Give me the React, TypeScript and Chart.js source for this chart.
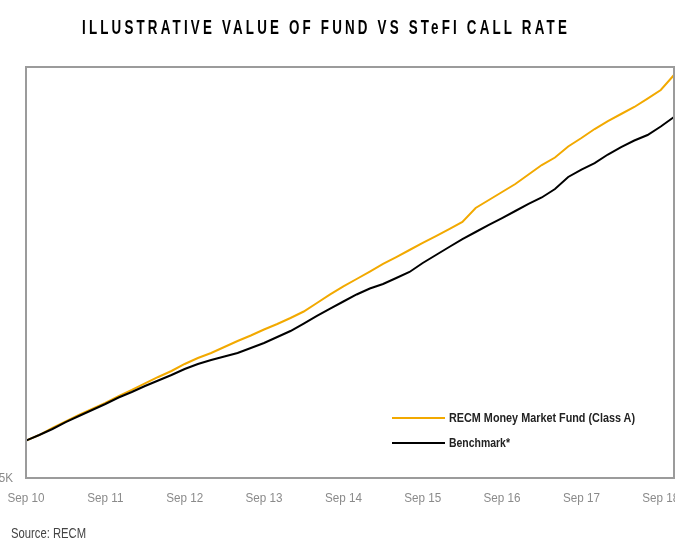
import React, { useEffect, useRef } from "react";
import { Chart, registerables } from "chart.js";

Chart.register(...registerables);

// Month labels, every second month from Sep 2010 to Nov 2018
const periods: string[] = [
  "Sep 10", "Nov 10", "Jan 11", "Mar 11", "May 11", "Jul 11",
  "Sep 11", "Nov 11", "Jan 12", "Mar 12", "May 12", "Jul 12",
  "Sep 12", "Nov 12", "Jan 13", "Mar 13", "May 13", "Jul 13",
  "Sep 13", "Nov 13", "Jan 14", "Mar 14", "May 14", "Jul 14",
  "Sep 14", "Nov 14", "Jan 15", "Mar 15", "May 15", "Jul 15",
  "Sep 15", "Nov 15", "Jan 16", "Mar 16", "May 16", "Jul 16",
  "Sep 16", "Nov 16", "Jan 17", "Mar 17", "May 17", "Jul 17",
  "Sep 17", "Nov 17", "Jan 18", "Mar 18", "May 18", "Jul 18",
  "Sep 18", "Nov 18",
];

// Value in R thousands
const fundValues: number[] = [
  10.0, 10.75, 11.69, 12.56, 13.43, 14.23, 15.04, 15.97, 16.78, 17.65,
  18.52, 19.32, 20.26, 21.06, 21.73, 22.53, 23.33, 24.07, 24.87, 25.61,
  26.41, 27.28, 28.42, 29.56, 30.63, 31.63, 32.63, 33.64, 34.57, 35.51,
  36.45, 37.38, 38.32, 39.26, 41.13, 42.2, 43.27, 44.34, 45.61, 46.88,
  47.89, 49.36, 50.5, 51.7, 52.77, 53.71, 54.65, 55.78, 56.92, 58.93,
];

const benchmarkValues: number[] = [
  10.0, 10.75, 11.56, 12.49, 13.3, 14.1, 14.9, 15.77, 16.51, 17.31,
  18.05, 18.78, 19.59, 20.26, 20.79, 21.26, 21.73, 22.4, 23.07, 23.87,
  24.67, 25.67, 26.68, 27.68, 28.62, 29.56, 30.36, 30.96, 31.76, 32.57,
  33.77, 34.84, 35.91, 36.98, 37.92, 38.86, 39.79, 40.73, 41.67, 42.54,
  43.67, 45.28, 46.28, 47.15, 48.29, 49.29, 50.16, 50.9, 52.04, 53.31,
];

const yTickValues: number[] = [5];
const yTickLabels: string[] = ["5K"];
const yMin = 5;
const yMax = 60;

const titleText = "ILLUSTRATIVE VALUE OF FUND VS STeFI CALL RATE";
const fundLabel = "RECM Money Market Fund (Class A)";
const benchLabel = "Benchmark*";
const sourceText = "Source: RECM";

const FUND_COLOR = "#f2a900";
const BENCH_COLOR = "#000000";
const FONT = '"Liberation Sans", Arial, sans-serif';
const TICK_SCALE = 0.865;

const boxPlugin = {
  id: "boxBorder",
  afterDatasetsDraw(chart: any) {
    const { ctx, chartArea } = chart;
    const { left, top, right, bottom } = chartArea;
    ctx.save();
    ctx.strokeStyle = "#9b9b9b";
    ctx.lineWidth = 2;
    ctx.strokeRect(left, top, right - left, bottom - top);
    ctx.restore();
  },
};

// Draws the axis texts horizontally condensed (narrow typeface look)
const condensePlugin = {
  id: "condenseText",
  beforeDraw(chart: any) {
    const ctx = chart.ctx as any;
    if (ctx.__origFill) return;
    const orig = ctx.fillText;
    ctx.__origFill = orig;
    ctx.fillText = function (text: string, x: number, y: number) {
      this.save();
      this.translate(x, y);
      this.scale(TICK_SCALE, 1);
      orig.call(this, text, 0, 0);
      this.restore();
    };
  },
  afterDraw(chart: any) {
    const ctx = chart.ctx as any;
    if (ctx.__origFill) {
      ctx.fillText = ctx.__origFill;
      delete ctx.__origFill;
    }
  },
};

function fitWidth(el: HTMLElement | null, target: number) {
  if (!el) return;
  el.style.transform = "none";
  const w = el.getBoundingClientRect().width;
  if (w > 0) el.style.transform = `scaleX(${target / w})`;
}

export default function App() {
  const canvasRef = useRef<HTMLCanvasElement | null>(null);
  const titleRef = useRef<HTMLDivElement | null>(null);
  const l1Ref = useRef<HTMLSpanElement | null>(null);
  const l2Ref = useRef<HTMLSpanElement | null>(null);
  const srcRef = useRef<HTMLDivElement | null>(null);

  useEffect(() => {
    document.body.style.margin = "0";
    document.body.style.overflow = "hidden";
    fitWidth(titleRef.current, 488);
    fitWidth(l1Ref.current, 186);
    fitWidth(l2Ref.current, 61);
    fitWidth(srcRef.current, 75);

    const canvas = canvasRef.current;
    if (!canvas) return;
    const chart = new Chart(canvas, {
      type: "line",
      data: {
        labels: periods,
        datasets: [
          {
            label: fundLabel,
            data: fundValues,
            borderColor: FUND_COLOR,
            backgroundColor: FUND_COLOR,
            borderWidth: 2,
            pointRadius: 0,
            tension: 0,
            order: 1,
          },
          {
            label: benchLabel,
            data: benchmarkValues,
            borderColor: BENCH_COLOR,
            backgroundColor: BENCH_COLOR,
            borderWidth: 2,
            pointRadius: 0,
            tension: 0,
            order: 0,
          },
        ],
      },
      options: {
        animation: false,
        responsive: false,
        maintainAspectRatio: false,
        layout: { padding: { left: 0, right: 26, top: 67, bottom: 0 } },
        plugins: {
          legend: { display: false },
          title: { display: false },
          tooltip: { enabled: false },
        },
        scales: {
          x: {
            type: "category",
            offset: false,
            grid: { display: false, drawTicks: false },
            border: { display: false },
            ticks: {
              autoSkip: false,
              maxRotation: 0,
              minRotation: 0,
              padding: 12,
              color: "#8a8a8a",
              font: { family: FONT, size: 13.5 },
              callback: function (this: any, value: any) {
                const lab = this.getLabelForValue(value) as string;
                return lab.startsWith("Sep") ? lab : "";
              },
            },
            afterFit: (scale: any) => {
              scale.height = 60;
            },
          },
          y: {
            type: "linear",
            min: yMin,
            max: yMax,
            grid: { display: false, drawTicks: false },
            border: { display: false },
            afterBuildTicks: (axis: any) => {
              axis.ticks = yTickValues.map((v) => ({ value: v }));
            },
            ticks: {
              padding: 13,
              color: "#8a8a8a",
              font: { family: FONT, size: 13.5 },
              callback: (value: any) => {
                const i = yTickValues.indexOf(Number(value));
                return i >= 0 ? yTickLabels[i] : "";
              },
            },
            afterFit: (scale: any) => {
              scale.width = 46;
            },
          },
        },
      },
      plugins: [boxPlugin, condensePlugin],
    });
    return () => chart.destroy();
  }, []);

  const legendText: React.CSSProperties = {
    position: "absolute",
    left: 449,
    fontFamily: FONT,
    fontSize: 13,
    fontWeight: 700,
    color: "#222",
    whiteSpace: "nowrap",
    transformOrigin: "left center",
    lineHeight: "13px",
  };

  return (
    <div
      style={{
        position: "fixed",
        left: 0,
        top: 0,
        width: 675,
        height: 538,
        overflow: "hidden",
        background: "#fff",
      }}
    >
      <canvas
        ref={canvasRef}
        width={720}
        height={538}
        style={{ position: "absolute", left: -20, top: 0, width: 720, height: 538 }}
      />
      <div
        ref={titleRef}
        style={{
          position: "absolute",
          left: 82,
          top: 16,
          fontFamily: FONT,
          fontSize: 21,
          fontWeight: 700,
          lineHeight: "21px",
          letterSpacing: "5px",
          color: "#000",
          whiteSpace: "nowrap",
          transformOrigin: "left top",
        }}
      >
        {titleText}
      </div>
      <div style={{ position: "absolute", left: 392, top: 417, width: 53, height: 2, background: FUND_COLOR }} />
      <span ref={l1Ref} style={{ ...legendText, top: 411 }}>{fundLabel}</span>
      <div style={{ position: "absolute", left: 392, top: 442, width: 53, height: 2, background: BENCH_COLOR }} />
      <span ref={l2Ref} style={{ ...legendText, top: 436 }}>{benchLabel}</span>
      <div
        ref={srcRef}
        style={{
          position: "absolute",
          left: 11,
          top: 525,
          fontFamily: FONT,
          fontSize: 15,
          lineHeight: "15px",
          color: "#444",
          whiteSpace: "nowrap",
          transformOrigin: "left top",
        }}
      >
        {sourceText}
      </div>
    </div>
  );
}
